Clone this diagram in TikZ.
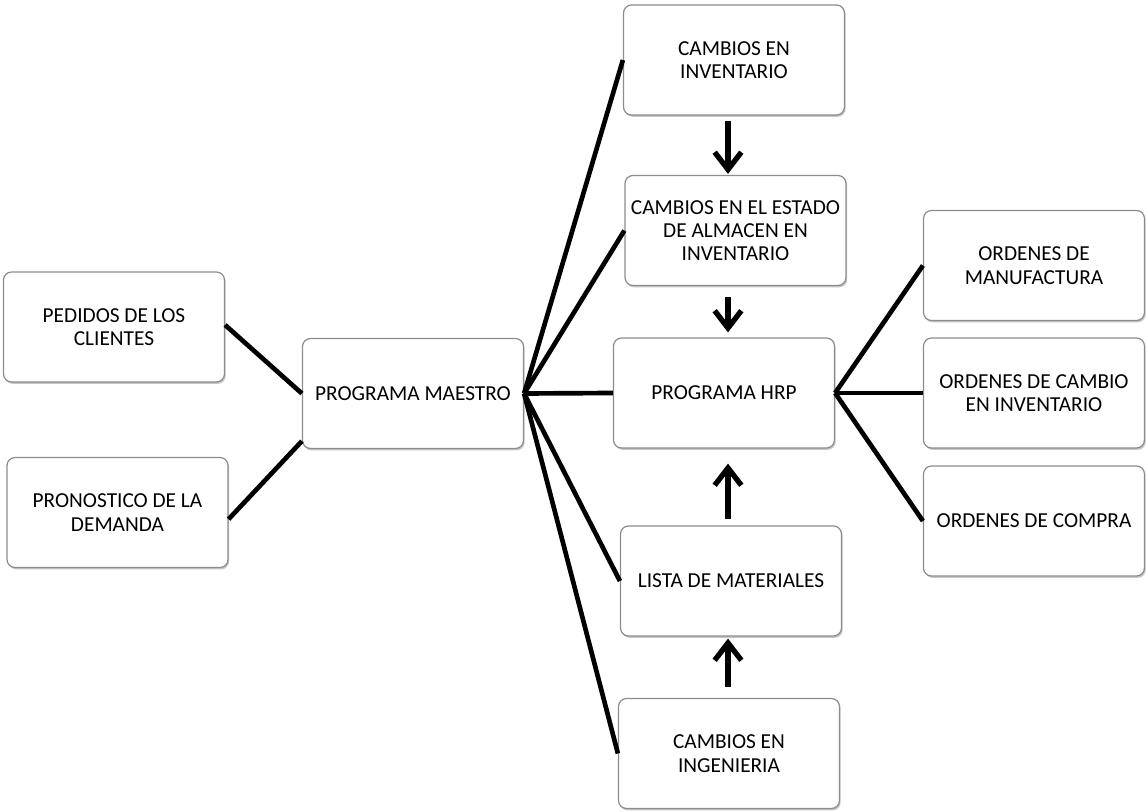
\documentclass[tikz,border=0pt]{standalone}
\usepackage{fontspec}
\setmainfont{Carlito}
\usetikzlibrary{arrows.meta,shadows}
\definecolor{boxgray}{HTML}{8C8C8C}
\begin{document}
\begin{tikzpicture}[x=0.75pt,y=-0.75pt,
  box/.style={draw=boxgray, line width=0.9pt, rounded corners=6pt, fill=white,
    minimum width=165.75pt, minimum height=82.5pt, align=center, inner sep=0pt,
    font=\fontsize{16}{17.5}\selectfont,
    drop shadow={shadow xshift=0.9pt, shadow yshift=-1.4pt, fill=black, opacity=0.22}},
  link/.style={line width=3.5pt, black},
  arr/.style={line width=4pt, black, -{Straight Barb[length=13pt,width=20pt]}}]
\useasboundingbox (0,0) rectangle (1146,812);
\node[box] (pedidos) at (114,327) {PEDIDOS DE LOS\\CLIENTES};
\node[box] (pronostico) at (117.5,512.5) {PRONOSTICO DE LA\\DEMANDA};
\node[box] (maestro) at (413,393.5) {PROGRAMA MAESTRO};
\node[box] (inv) at (734,60) {CAMBIOS EN\\INVENTARIO};
\node[box] (estado) at (735.5,230.5) {CAMBIOS EN EL ESTADO\\DE ALMACEN EN\\INVENTARIO};
\node[box] (hrp) at (724,393) {PROGRAMA HRP};
\node[box] (lista) at (731,581) {LISTA DE MATERIALES};
\node[box] (ing) at (729,753.5) {CAMBIOS EN\\INGENIERIA};
\node[box] (om) at (1034,265.5) {ORDENES DE\\MANUFACTURA};
\node[box] (oc) at (1034,393) {ORDENES DE CAMBIO\\EN INVENTARIO};
\node[box] (ocomp) at (1034,521) {ORDENES DE COMPRA};
% connectors
\draw[link] ([yshift=1.5pt]pedidos.east) -- (maestro.west);
\draw[link] ([yshift=-5pt]pronostico.east) -- ([yshift=6pt]maestro.south west);
\draw[link] (maestro.east) -- (inv.west);
\draw[link] (maestro.east) -- (estado.west);
\draw[link] (maestro.east) -- (hrp.west);
\draw[link] (maestro.east) -- (lista.west);
\draw[link] (maestro.east) -- (ing.west);
\draw[link] (hrp.east) -- (om.west);
\draw[link] (hrp.east) -- (oc.west);
\draw[link] (hrp.east) -- (ocomp.west);
% arrows
\draw[arr] ([shift={(-6,5)}]inv.south) -- ([shift={(-7.5,-1)}]estado.north);
\draw[arr] ([shift={(-7.5,11)}]estado.south) -- ([shift={(4,-5)}]hrp.north);
\draw[arr] ([shift={(-3,-6)}]lista.north) -- ([shift={(4,15)}]hrp.south);
\draw[arr] ([shift={(-1,-11)}]ing.north) -- ([shift={(-3,2)}]lista.south);
\end{tikzpicture}
\end{document}
